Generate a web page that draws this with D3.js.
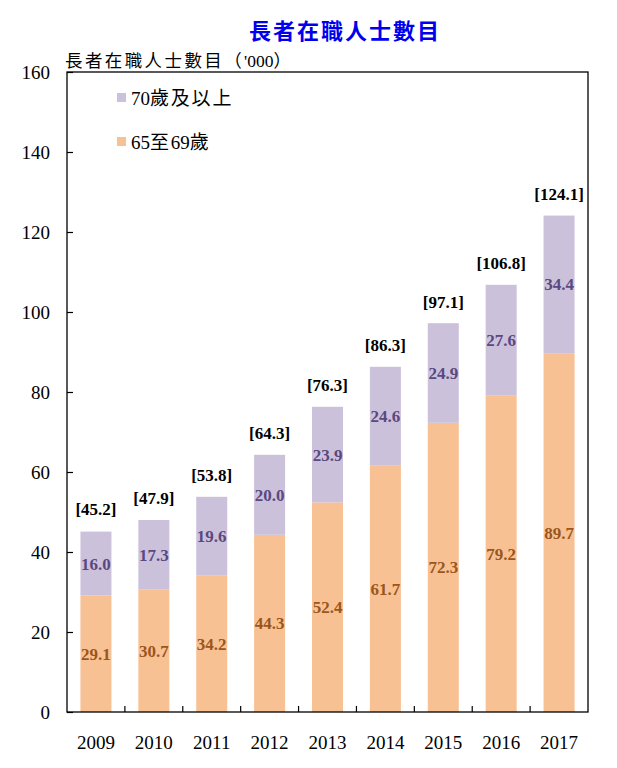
<!DOCTYPE html>
<html><head><meta charset="utf-8">
<script src="https://cdn.jsdelivr.net/npm/d3@7"></script>
<style>body{margin:0;background:#fff;}</style>
</head><body>
<svg id="c" width="617" height="768"></svg>
<script>
const years = ["2009","2010","2011","2012","2013","2014","2015","2016","2017"];
const age65to69 = [29.1,30.7,34.2,44.3,52.4,61.7,72.3,79.2,89.7];
const age70plus = [16.0,17.3,19.6,20.0,23.9,24.6,24.9,27.6,34.4];
const totals = [45.2,47.9,53.8,64.3,76.3,86.3,97.1,106.8,124.1];
const yTicks = [0,20,40,60,80,100,120,140,160];
const seriesNames = ["70歲及以上","65至69歲"];

const serif = "'Liberation Serif','Times New Roman','Noto Sans CJK TC',serif";
const svg = d3.select("#c");
const m = {l:67, r:588, t:72, b:712};
const x = d3.scaleBand().domain(years).range([m.l, m.r]).paddingInner(0).paddingOuter(0);
const y = d3.scaleLinear().domain([0,160]).range([m.b, m.t]);
const bw = 31;
const cOrange = "#F8C193", cPurple = "#CBC1DB";

// helper: CJK characters spaced, latin not
function richText(sel, str, sp){
  const parts = str.match(/([\u3000-\u9fff\uff00-\uffef]+|[^\u3000-\u9fff\uff00-\uffef]+)/g);
  parts.forEach(p=>{
    const cjk = /[\u3000-\u9fff\uff00-\uffef]/.test(p);
    sel.append("tspan").attr("letter-spacing", cjk ? sp : 0).text(p);
  });
}

// title
svg.append("text").attr("x",345).attr("y",39).attr("text-anchor","middle")
  .attr("font-family",serif).attr("font-weight","bold").attr("font-size",22)
  .attr("letter-spacing",2).attr("fill","#0000EE").text("長者在職人士數目");
const yl = svg.append("text").attr("x",65).attr("y",67)
  .attr("font-family",serif).attr("font-size",17.5).attr("fill","#000");
richText(yl, "長者在職人士數目（'000）", 2.4);

// bars
const g = svg.append("g");
years.forEach((yr,i)=>{
  const cx = x(yr) + x.bandwidth()/2;
  g.append("rect").attr("x",cx-bw/2).attr("width",bw)
    .attr("y",y(age65to69[i])).attr("height",y(0)-y(age65to69[i])).attr("fill",cOrange);
  g.append("rect").attr("x",cx-bw/2).attr("width",bw)
    .attr("y",y(age65to69[i]+age70plus[i])).attr("height",y(age65to69[i])-y(age65to69[i]+age70plus[i])).attr("fill",cPurple);
  g.append("text").attr("x",cx).attr("y",y(age65to69[i]/2)).attr("dy","0.35em")
    .attr("text-anchor","middle").attr("font-family",serif).attr("font-weight","bold")
    .attr("font-size",17).attr("fill","#9A561C").text(age65to69[i].toFixed(1));
  g.append("text").attr("x",cx).attr("y",y(age65to69[i]+age70plus[i]/2)).attr("dy","0.35em")
    .attr("text-anchor","middle").attr("font-family",serif).attr("font-weight","bold")
    .attr("font-size",17).attr("fill","#594980").text(age70plus[i].toFixed(1));
  g.append("text").attr("x",cx).attr("y",y(totals[i])-16)
    .attr("text-anchor","middle").attr("font-family",serif).attr("font-weight","bold")
    .attr("font-size",17).attr("fill","#000").text("["+totals[i].toFixed(1)+"]");
});

// frame
svg.append("rect").attr("x",m.l).attr("y",m.t).attr("width",m.r-m.l).attr("height",m.b-m.t)
  .attr("fill","none").attr("stroke","#000").attr("stroke-width",1.3);

// y axis
const ya = svg.append("g").attr("transform",`translate(${m.l},0)`)
  .call(d3.axisRight(y).tickValues(yTicks).tickSize(6).tickFormat(d3.format("d")));
ya.attr("font-family",null);
ya.select(".domain").remove();
ya.selectAll("line").attr("stroke","#000").attr("stroke-width",1.2);
ya.selectAll("text").attr("x",-17).attr("text-anchor","end").attr("font-family",serif)
  .attr("font-size",19).attr("fill","#000");

// x axis
const xa = svg.append("g").attr("transform",`translate(0,${m.b})`)
  .call(d3.axisBottom(x).tickSize(0).tickPadding(24));
xa.attr("font-family",null);
xa.select(".domain").remove();
xa.selectAll("text").attr("font-family",serif).attr("font-size",19).attr("fill","#000");
years.slice(1).forEach(yr=>{
  svg.append("line").attr("x1",x(yr)).attr("x2",x(yr)).attr("y1",m.b).attr("y2",m.b-6)
    .attr("stroke","#000").attr("stroke-width",1.2);
});

// legend
const leg = [[seriesNames[0],cPurple,98],[seriesNames[1],cOrange,142]];
leg.forEach(([t,c,yy])=>{
  svg.append("rect").attr("x",117).attr("y",yy-5).attr("width",9).attr("height",9).attr("fill",c);
  const lt = svg.append("text").attr("x",131).attr("y",yy).attr("dy","0.35em")
    .attr("font-family",serif).attr("font-size",19).attr("fill","#000");
  richText(lt, t, 1.8);
});
</script>
</body></html>
